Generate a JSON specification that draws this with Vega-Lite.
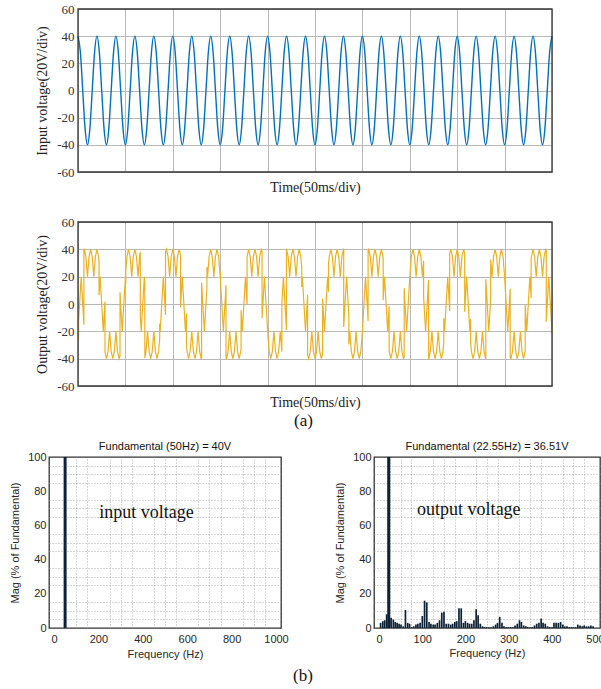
{
  "$schema": "https://vega.github.io/schema/vega-lite/v6.json",
  "background": "white",
  "padding": {"left": 8, "top": 3, "right": 0, "bottom": 0},
  "config": {
    "view": {"stroke": "#333333", "strokeWidth": 1.3},
    "axis": {"ticks": false, "domain": false, "grid": true, "gridWidth": 1, "labelFlush": false, "labelOverlap": false, "titleFontWeight": "normal", "minExtent": 0},
    "title": {"fontWeight": "normal"}
  },
  "datasets": {
    "input": [
      {"t":0,"v":40},{"t":2.5,"v":28.28},{"t":5,"v":0},{"t":7.5,"v":-28.28},{"t":10,"v":-40},{"t":12.5,"v":-28.28},{"t":15,"v":0},{"t":17.5,"v":28.28},
      {"t":20,"v":40},{"t":22.5,"v":28.28},{"t":25,"v":0},{"t":27.5,"v":-28.28},{"t":30,"v":-40},{"t":32.5,"v":-28.28},{"t":35,"v":0},{"t":37.5,"v":28.28},
      {"t":40,"v":40},{"t":42.5,"v":28.28},{"t":45,"v":0},{"t":47.5,"v":-28.28},{"t":50,"v":-40},{"t":52.5,"v":-28.28},{"t":55,"v":0},{"t":57.5,"v":28.28},
      {"t":60,"v":40},{"t":62.5,"v":28.28},{"t":65,"v":0},{"t":67.5,"v":-28.28},{"t":70,"v":-40},{"t":72.5,"v":-28.28},{"t":75,"v":0},{"t":77.5,"v":28.28},
      {"t":80,"v":40},{"t":82.5,"v":28.28},{"t":85,"v":0},{"t":87.5,"v":-28.28},{"t":90,"v":-40},{"t":92.5,"v":-28.28},{"t":95,"v":0},{"t":97.5,"v":28.28},
      {"t":100,"v":40},{"t":102.5,"v":28.28},{"t":105,"v":0},{"t":107.5,"v":-28.28},{"t":110,"v":-40},{"t":112.5,"v":-28.28},{"t":115,"v":0},{"t":117.5,"v":28.28},
      {"t":120,"v":40},{"t":122.5,"v":28.28},{"t":125,"v":0},{"t":127.5,"v":-28.28},{"t":130,"v":-40},{"t":132.5,"v":-28.28},{"t":135,"v":0},{"t":137.5,"v":28.28},
      {"t":140,"v":40},{"t":142.5,"v":28.28},{"t":145,"v":0},{"t":147.5,"v":-28.28},{"t":150,"v":-40},{"t":152.5,"v":-28.28},{"t":155,"v":0},{"t":157.5,"v":28.28},
      {"t":160,"v":40},{"t":162.5,"v":28.28},{"t":165,"v":0},{"t":167.5,"v":-28.28},{"t":170,"v":-40},{"t":172.5,"v":-28.28},{"t":175,"v":0},{"t":177.5,"v":28.28},
      {"t":180,"v":40},{"t":182.5,"v":28.28},{"t":185,"v":0},{"t":187.5,"v":-28.28},{"t":190,"v":-40},{"t":192.5,"v":-28.28},{"t":195,"v":0},{"t":197.5,"v":28.28},
      {"t":200,"v":40},{"t":202.5,"v":28.28},{"t":205,"v":0},{"t":207.5,"v":-28.28},{"t":210,"v":-40},{"t":212.5,"v":-28.28},{"t":215,"v":0},{"t":217.5,"v":28.28},
      {"t":220,"v":40},{"t":222.5,"v":28.28},{"t":225,"v":0},{"t":227.5,"v":-28.28},{"t":230,"v":-40},{"t":232.5,"v":-28.28},{"t":235,"v":0},{"t":237.5,"v":28.28},
      {"t":240,"v":40},{"t":242.5,"v":28.28},{"t":245,"v":0},{"t":247.5,"v":-28.28},{"t":250,"v":-40},{"t":252.5,"v":-28.28},{"t":255,"v":0},{"t":257.5,"v":28.28},
      {"t":260,"v":40},{"t":262.5,"v":28.28},{"t":265,"v":0},{"t":267.5,"v":-28.28},{"t":270,"v":-40},{"t":272.5,"v":-28.28},{"t":275,"v":0},{"t":277.5,"v":28.28},
      {"t":280,"v":40},{"t":282.5,"v":28.28},{"t":285,"v":0},{"t":287.5,"v":-28.28},{"t":290,"v":-40},{"t":292.5,"v":-28.28},{"t":295,"v":0},{"t":297.5,"v":28.28},
      {"t":300,"v":40},{"t":302.5,"v":28.28},{"t":305,"v":0},{"t":307.5,"v":-28.28},{"t":310,"v":-40},{"t":312.5,"v":-28.28},{"t":315,"v":0},{"t":317.5,"v":28.28},
      {"t":320,"v":40},{"t":322.5,"v":28.28},{"t":325,"v":0},{"t":327.5,"v":-28.28},{"t":330,"v":-40},{"t":332.5,"v":-28.28},{"t":335,"v":0},{"t":337.5,"v":28.28},
      {"t":340,"v":40},{"t":342.5,"v":28.28},{"t":345,"v":0},{"t":347.5,"v":-28.28},{"t":350,"v":-40},{"t":352.5,"v":-28.28},{"t":355,"v":0},{"t":357.5,"v":28.28},
      {"t":360,"v":40},{"t":362.5,"v":28.28},{"t":365,"v":0},{"t":367.5,"v":-28.28},{"t":370,"v":-40},{"t":372.5,"v":-28.28},{"t":375,"v":0},{"t":377.5,"v":28.28},
      {"t":380,"v":40},{"t":382.5,"v":28.28},{"t":385,"v":0},{"t":387.5,"v":-28.28},{"t":390,"v":-40},{"t":392.5,"v":-28.28},{"t":395,"v":0},{"t":397.5,"v":28.28},
      {"t":400,"v":40},{"t":402.5,"v":28.28},{"t":405,"v":0},{"t":407.5,"v":-28.28},{"t":410,"v":-40},{"t":412.5,"v":-28.28},{"t":415,"v":0},{"t":417.5,"v":28.28},
      {"t":420,"v":40},{"t":422.5,"v":28.28},{"t":425,"v":0},{"t":427.5,"v":-28.28},{"t":430,"v":-40},{"t":432.5,"v":-28.28},{"t":435,"v":0},{"t":437.5,"v":28.28},
      {"t":440,"v":40},{"t":442.5,"v":28.28},{"t":445,"v":0},{"t":447.5,"v":-28.28},{"t":450,"v":-40},{"t":452.5,"v":-28.28},{"t":455,"v":0},{"t":457.5,"v":28.28},
      {"t":460,"v":40},{"t":462.5,"v":28.28},{"t":465,"v":0},{"t":467.5,"v":-28.28},{"t":470,"v":-40},{"t":472.5,"v":-28.28},{"t":475,"v":0},{"t":477.5,"v":28.28},
      {"t":480,"v":40},{"t":482.5,"v":28.28},{"t":485,"v":0},{"t":487.5,"v":-28.28},{"t":490,"v":-40},{"t":492.5,"v":-28.28},{"t":495,"v":0},{"t":497.5,"v":28.28},
      {"t":500,"v":40}
    ],
    "output": [
      {"t":0,"v":-20},{"t":0.6,"v":-26.1},{"t":0.61,"v":-13.2},{"t":1.67,"v":0},{"t":3.33,"v":20},{"t":5,"v":0},{"t":6.23,"v":-15.1},{"t":6.24,"v":39.6},{"t":6.67,"v":40},
      {"t":8.33,"v":34.64},{"t":10,"v":20},{"t":11.67,"v":34.64},{"t":13.33,"v":40},{"t":15,"v":34.64},{"t":16.67,"v":20},{"t":18.33,"v":34.64},{"t":20,"v":40},{"t":21.67,"v":34.64},
      {"t":22.18,"v":31},{"t":22.19,"v":6.4},{"t":23.33,"v":20},{"t":25,"v":0},{"t":26.67,"v":-20},{"t":28.33,"v":0},{"t":28.48,"v":1.8},{"t":28.49,"v":-35.5},
      {"t":30,"v":-40},{"t":31.67,"v":-34.64},{"t":33.33,"v":-20},{"t":35,"v":-34.64},{"t":36.67,"v":-40},{"t":38.33,"v":-34.64},{"t":40,"v":-20},{"t":41.67,"v":-34.64},{"t":43.33,"v":-40},
      {"t":44.31,"v":-38.1},{"t":44.32,"v":8.6},{"t":45,"v":0},{"t":46.67,"v":-20},{"t":48.33,"v":0},{"t":50,"v":20},{"t":50.43,"v":15.2},{"t":50.44,"v":24.5},
      {"t":51.67,"v":34.64},{"t":53.33,"v":40},{"t":55,"v":34.64},{"t":56.67,"v":20},{"t":58.33,"v":34.64},{"t":60,"v":40},{"t":61.67,"v":34.64},{"t":63.33,"v":20},{"t":65,"v":34.64},
      {"t":65.72,"v":38.2},{"t":65.73,"v":-8.9},{"t":66.67,"v":-20},{"t":68.33,"v":0},{"t":70,"v":20},{"t":70.5,"v":14.3},{"t":70.51,"v":-39.5},
      {"t":71.67,"v":-34.64},{"t":73.33,"v":-20},{"t":75,"v":-34.64},{"t":76.67,"v":-40},{"t":78.33,"v":-34.64},{"t":80,"v":-20},{"t":81.67,"v":-34.64},{"t":83.33,"v":-40},{"t":85,"v":-34.64},
      {"t":86.17,"v":-25.2},{"t":86.18,"v":-14.3},{"t":86.67,"v":-20},{"t":88.33,"v":0},{"t":90,"v":20},{"t":91.67,"v":0},{"t":92.32,"v":-8.1},{"t":92.33,"v":38},
      {"t":93.33,"v":40},{"t":95,"v":34.64},{"t":96.67,"v":20},{"t":98.33,"v":34.64},{"t":100,"v":40},{"t":101.67,"v":34.64},{"t":103.33,"v":20},{"t":105,"v":34.64},{"t":106.67,"v":40},
      {"t":108.14,"v":35.8},{"t":108.15,"v":-2.4},{"t":108.33,"v":0},{"t":110,"v":20},{"t":111.67,"v":0},{"t":113.33,"v":-20},{"t":114.44,"v":-7},{"t":114.45,"v":-30.6},
      {"t":115,"v":-34.64},{"t":116.67,"v":-40},{"t":118.33,"v":-34.64},{"t":120,"v":-20},{"t":121.67,"v":-34.64},{"t":123.33,"v":-40},{"t":125,"v":-34.64},{"t":126.67,"v":-20},{"t":128.33,"v":-34.64},{"t":130,"v":-40},
      {"t":130.39,"v":-39.7},{"t":130.4,"v":15.6},{"t":131.67,"v":0},{"t":133.33,"v":-20},{"t":135,"v":0},{"t":135.98,"v":12.1},{"t":135.99,"v":27},
      {"t":136.67,"v":20},{"t":138.33,"v":34.64},{"t":140,"v":40},{"t":141.67,"v":34.64},{"t":143.33,"v":20},{"t":145,"v":34.64},{"t":146.67,"v":40},{"t":148.33,"v":34.64},{"t":150,"v":20},
      {"t":150.34,"v":23.6},{"t":150.35,"v":16.2},{"t":151.67,"v":0},{"t":153.33,"v":-20},{"t":155,"v":0},{"t":156.12,"v":13.7},{"t":156.13,"v":-39.4},
      {"t":156.67,"v":-40},{"t":158.33,"v":-34.64},{"t":160,"v":-20},{"t":161.67,"v":-34.64},{"t":163.33,"v":-40},{"t":165,"v":-34.64},{"t":166.67,"v":-20},{"t":168.33,"v":-34.64},{"t":170,"v":-40},{"t":171.67,"v":-34.64},
      {"t":172.03,"v":-32.2},{"t":172.04,"v":-4.5},{"t":173.33,"v":-20},{"t":175,"v":0},{"t":176.67,"v":20},{"t":178.33,"v":0},{"t":178.35,"v":34.7},
      {"t":180,"v":40},{"t":181.67,"v":34.64},{"t":183.33,"v":20},{"t":185,"v":34.64},{"t":186.67,"v":40},{"t":188.33,"v":34.64},{"t":190,"v":20},{"t":191.67,"v":34.64},{"t":193.33,"v":40},
      {"t":194.18,"v":38.6},{"t":194.19,"v":-10.2},{"t":195,"v":0},{"t":196.67,"v":20},{"t":198.33,"v":0},{"t":200,"v":-20},{"t":200.25,"v":-17.2},{"t":200.26,"v":-22.7},
      {"t":201.67,"v":-34.64},{"t":203.33,"v":-40},{"t":205,"v":-34.64},{"t":206.67,"v":-20},{"t":208.33,"v":-34.64},{"t":210,"v":-40},{"t":211.67,"v":-34.64},{"t":213.33,"v":-20},{"t":215,"v":-34.64},
      {"t":215.03,"v":-34.8},{"t":215.04,"v":0.4},{"t":216.67,"v":20},{"t":218.33,"v":0},{"t":219.9,"v":-19},{"t":219.91,"v":40},{"t":220,"v":40},
      {"t":221.67,"v":34.64},{"t":223.33,"v":20},{"t":225,"v":34.64},{"t":226.67,"v":40},{"t":228.33,"v":34.64},{"t":230,"v":20},{"t":231.67,"v":34.64},{"t":233.33,"v":40},{"t":235,"v":34.64},
      {"t":236.01,"v":26.7},{"t":236.02,"v":12.4},{"t":236.67,"v":20},{"t":238.33,"v":0},{"t":240,"v":-20},{"t":241.67,"v":0},{"t":242.2,"v":6.7},{"t":242.21,"v":-37.5},
      {"t":243.33,"v":-40},{"t":245,"v":-34.64},{"t":246.67,"v":-20},{"t":248.33,"v":-34.64},{"t":250,"v":-40},{"t":251.67,"v":-34.64},{"t":253.33,"v":-20},{"t":255,"v":-34.64},{"t":256.67,"v":-40},
      {"t":258.02,"v":-36.5},{"t":258.03,"v":4},{"t":258.33,"v":0},{"t":260,"v":-20},{"t":261.67,"v":0},{"t":263.33,"v":20},{"t":264.28,"v":8.9},{"t":264.29,"v":29.3},
      {"t":265,"v":34.64},{"t":266.67,"v":40},{"t":268.33,"v":34.64},{"t":270,"v":20},{"t":271.67,"v":34.64},{"t":273.33,"v":40},{"t":275,"v":34.64},{"t":276.67,"v":20},{"t":278.33,"v":34.64},{"t":280,"v":40},
      {"t":280.28,"v":39.8},{"t":280.29,"v":-16.8},{"t":281.67,"v":0},{"t":283.33,"v":20},{"t":285,"v":0},{"t":285.67,"v":-8.3},{"t":285.68,"v":-29.7},
      {"t":286.67,"v":-20},{"t":288.33,"v":-34.64},{"t":290,"v":-40},{"t":291.67,"v":-34.64},{"t":293.33,"v":-20},{"t":295,"v":-34.64},{"t":296.67,"v":-40},{"t":298.33,"v":-34.64},{"t":300,"v":-20},
      {"t":301.67,"v":0},{"t":303.33,"v":20},{"t":305,"v":0},{"t":306.01,"v":-12.5},{"t":306.02,"v":39.1},
      {"t":306.67,"v":40},{"t":308.33,"v":34.64},{"t":310,"v":20},{"t":311.67,"v":34.64},{"t":313.33,"v":40},{"t":315,"v":34.64},{"t":316.67,"v":20},{"t":318.33,"v":34.64},{"t":320,"v":40},{"t":321.67,"v":34.64},
      {"t":321.88,"v":33.2},{"t":321.89,"v":2.7},{"t":323.33,"v":20},{"t":325,"v":0},{"t":326.67,"v":-20},{"t":328.21,"v":-1.6},{"t":328.22,"v":-33.8},
      {"t":328.33,"v":-34.64},{"t":330,"v":-40},{"t":331.67,"v":-34.64},{"t":333.33,"v":-20},{"t":335,"v":-34.64},{"t":336.67,"v":-40},{"t":338.33,"v":-34.64},{"t":340,"v":-20},{"t":341.67,"v":-34.64},{"t":343.33,"v":-40},
      {"t":344.07,"v":-38.9},{"t":344.08,"v":11.6},{"t":345,"v":0},{"t":346.67,"v":-20},{"t":348.33,"v":0},{"t":350,"v":20},
      {"t":351.67,"v":34.64},{"t":353.33,"v":40},{"t":355,"v":34.64},{"t":356.67,"v":20},{"t":358.33,"v":34.64},{"t":360,"v":40},{"t":361.67,"v":34.64},{"t":363.33,"v":20},
      {"t":364.58,"v":31.7},{"t":364.59,"v":5.2},{"t":365,"v":0},{"t":366.67,"v":-20},{"t":368.33,"v":0},{"t":369.78,"v":17.6},{"t":369.79,"v":-39.9},
      {"t":370,"v":-40},{"t":371.67,"v":-34.64},{"t":373.33,"v":-20},{"t":375,"v":-34.64},{"t":376.67,"v":-40},{"t":378.33,"v":-34.64},{"t":380,"v":-20},{"t":381.67,"v":-34.64},{"t":383.33,"v":-40},{"t":385,"v":-34.64},
      {"t":385.83,"v":-28.3},{"t":385.84,"v":-10.4},{"t":386.67,"v":-20},{"t":388.33,"v":0},{"t":390,"v":20},{"t":391.67,"v":0},{"t":392.08,"v":-5.1},{"t":392.09,"v":36.9},
      {"t":393.33,"v":40},{"t":395,"v":34.64},{"t":396.67,"v":20},{"t":398.33,"v":34.64},{"t":400,"v":40},{"t":401.67,"v":34.64},{"t":403.33,"v":20},{"t":405,"v":34.64},{"t":406.67,"v":40},
      {"t":407.88,"v":37.1},{"t":407.89,"v":-5.6},{"t":408.33,"v":0},{"t":410,"v":20},{"t":411.67,"v":0},{"t":413.33,"v":-20},{"t":414.13,"v":-10.9},{"t":414.14,"v":-27.9},
      {"t":415,"v":-34.64},{"t":416.67,"v":-40},{"t":418.33,"v":-34.64},{"t":420,"v":-20},{"t":421.67,"v":-34.64},{"t":423.33,"v":-40},{"t":425,"v":-34.64},{"t":426.67,"v":-20},{"t":428.33,"v":-34.64},{"t":430,"v":-40},
      {"t":430.18,"v":-39.9},{"t":430.19,"v":18.1},{"t":431.67,"v":0},{"t":433.33,"v":-20},{"t":435,"v":0},{"t":435.3,"v":3.8},{"t":435.31,"v":32.6},
      {"t":436.67,"v":20},{"t":438.33,"v":34.64},{"t":440,"v":40},{"t":441.67,"v":34.64},{"t":443.33,"v":20},{"t":445,"v":34.64},{"t":446.67,"v":40},{"t":448.33,"v":34.64},
      {"t":449.9,"v":21.1},{"t":449.91,"v":18.9},{"t":450,"v":20},{"t":451.67,"v":0},{"t":453.33,"v":-20},{"t":455,"v":0},{"t":455.9,"v":11.2},{"t":455.91,"v":-38.8},
      {"t":456.67,"v":-40},{"t":458.33,"v":-34.64},{"t":460,"v":-20},{"t":461.67,"v":-34.64},{"t":463.33,"v":-40},{"t":465,"v":-34.64},{"t":466.67,"v":-20},{"t":468.33,"v":-34.64},{"t":470,"v":-40},{"t":471.67,"v":-34.64},
      {"t":471.73,"v":-34.2},{"t":471.74,"v":-0.8},{"t":473.33,"v":-20},{"t":475,"v":0},{"t":476.67,"v":20},{"t":477.98,"v":4.4},{"t":477.99,"v":32.2},
      {"t":478.33,"v":34.64},{"t":480,"v":40},{"t":481.67,"v":34.64},{"t":483.33,"v":20},{"t":485,"v":34.64},{"t":486.67,"v":40},{"t":488.33,"v":34.64},{"t":490,"v":20},{"t":491.67,"v":34.64},{"t":493.33,"v":40},
      {"t":493.96,"v":39.2},{"t":493.97,"v":-12.9},{"t":495,"v":0},{"t":496.67,"v":20},{"t":498.33,"v":0},{"t":499.83,"v":-18.2},{"t":499.84,"v":-21.8},{"t":500,"v":-20}
    ],
    "fftIn": [{"f": 50, "m": 100}],
    "fftOut": [
      {"f":3.7,"m":3},{"f":8.8,"m":4},{"f":13.3,"m":4.5},{"f":17.7,"m":8},{"f":22.55,"m":100},{"f":28,"m":6},{"f":33.2,"m":5},{"f":37.6,"m":3.5},{"f":42,"m":3},{"f":46.5,"m":2.5},
      {"f":50.9,"m":2},{"f":56,"m":1},{"f":61.2,"m":10.5},{"f":66.4,"m":3},{"f":70.8,"m":2.5},{"f":76,"m":0.5},{"f":80.4,"m":1},{"f":85.5,"m":2},{"f":90,"m":2.5},{"f":95.1,"m":3},
      {"f":100.3,"m":7},{"f":105.5,"m":16},{"f":110.6,"m":15},{"f":115.8,"m":3.5},{"f":120.2,"m":2.5},{"f":125.4,"m":2},{"f":129.8,"m":2},{"f":135,"m":3},{"f":140.1,"m":4.5},{"f":145.3,"m":9},
      {"f":150.4,"m":9.5},{"f":155.6,"m":2.5},{"f":160.8,"m":2.5},{"f":165.9,"m":2},{"f":170.4,"m":2.5},{"f":175.5,"m":3.5},{"f":179.9,"m":4},{"f":185.1,"m":11.5},{"f":190.3,"m":11.5},{"f":195.4,"m":3},
      {"f":199.9,"m":4},{"f":205,"m":3},{"f":209.4,"m":2.5},{"f":214.6,"m":2.5},{"f":219.8,"m":4.5},{"f":224.9,"m":11},{"f":229.4,"m":7.5},{"f":234.5,"m":2.5},{"f":239.7,"m":1},{"f":244.1,"m":0.5},
      {"f":249.3,"m":0.5},{"f":254.4,"m":0.5},{"f":259.6,"m":0.5},{"f":264.7,"m":1},{"f":269.9,"m":2},{"f":274.3,"m":3},{"f":279.5,"m":6.5},{"f":284.7,"m":3},{"f":289.1,"m":1},{"f":294.2,"m":0.5},
      {"f":299.4,"m":0.5},{"f":304.6,"m":0.5},{"f":309.7,"m":0.5},{"f":314.9,"m":1.5},{"f":320.1,"m":2.5},{"f":325.2,"m":4.5},{"f":329.6,"m":3.5},{"f":334.8,"m":1.5},{"f":340,"m":1},{"f":344.4,"m":0.5},
      {"f":349.6,"m":0.5},{"f":354.7,"m":0.5},{"f":359.9,"m":1.5},{"f":365,"m":2.5},{"f":370.2,"m":3},{"f":375.4,"m":5.5},{"f":379.8,"m":3},{"f":384.9,"m":2.5},{"f":390.1,"m":1},{"f":395.3,"m":0.5},
      {"f":400.4,"m":0.5},{"f":404.9,"m":3},{"f":410,"m":3},{"f":415.2,"m":3},{"f":420.4,"m":3.5},{"f":425.5,"m":2},{"f":429.9,"m":1},{"f":435.1,"m":1},{"f":440.3,"m":0.5},{"f":445.4,"m":0.5},
      {"f":449.9,"m":0.5},{"f":455,"m":0.5},{"f":460.2,"m":2},{"f":465.3,"m":1.5},{"f":470.5,"m":1},{"f":474.9,"m":1.5},{"f":480.1,"m":1},{"f":485.3,"m":1},{"f":490.4,"m":1.5},{"f":495.6,"m":1}
    ]
  },
  "spacing": 11,
  "vconcat": [
    {
      "spacing": 22,
      "vconcat": [
        {
          "width": 503, "height": 163,
          "view": {"stroke": null},
          "resolve": {"axis": {"x": "independent", "y": "independent"}},
          "layer": [
            {
              "data": {"name": "input"},
              "mark": {"type": "line", "color": "#0072BD", "strokeWidth": 1.4, "interpolate": "monotone"},
              "encoding": {
                "x": {"field": "t", "type": "quantitative", "scale": {"domain": [0, 500], "nice": false, "range": [29, 503]},
                  "axis": {"values": [0,50,100,150,200,250,300,350,400,450,500], "labels": false, "gridColor": "#b8b8b8", "title": "Time(50ms/div)", "titleFont": "Liberation Serif", "titleFontSize": 14, "titleColor": "#222222", "titlePadding": 8}},
                "y": {"field": "v", "type": "quantitative", "scale": {"domain": [-60, 60], "nice": false},
                  "axis": {"offset": -29, "values": [-60,-40,-20,0,20,40,60], "labelExpr": "'' + datum.value", "labelFont": "Liberation Serif", "labelFontSize": 13, "labelColor": "#333333", "labelPadding": 4, "gridColor": "#b8b8b8", "title": "Input voltage(20V/div)", "titleFont": "Liberation Serif", "titleFontSize": 14, "titleColor": "#222222", "titlePadding": 7}}
              }
            },
            {
              "data": {"values": [{}]},
              "mark": {"type": "rect", "filled": false, "color": "#333333", "strokeWidth": 1.3},
              "encoding": {
                "x": {"datum": 0, "type": "quantitative", "axis": null},
                "x2": {"datum": 500},
                "y": {"datum": -60, "type": "quantitative", "axis": null},
                "y2": {"datum": 60}
              }
            }
          ]
        },
        {
          "width": 503, "height": 164,
          "view": {"stroke": null},
          "title": {"text": "(a)", "orient": "bottom", "font": "Liberation Serif", "fontSize": 17, "color": "#111111", "offset": 4, "dx": 3},
          "resolve": {"axis": {"x": "independent", "y": "independent"}},
          "layer": [
            {
              "data": {"name": "output"},
              "mark": {"type": "line", "color": "#EDB120", "strokeWidth": 1.2},
              "encoding": {
                "x": {"field": "t", "type": "quantitative", "scale": {"domain": [0, 500], "nice": false, "range": [29, 503]},
                  "axis": {"values": [0,50,100,150,200,250,300,350,400,450,500], "labels": false, "gridColor": "#b8b8b8", "title": "Time(50ms/div)", "titleFont": "Liberation Serif", "titleFontSize": 14, "titleColor": "#222222", "titlePadding": 9}},
                "y": {"field": "v", "type": "quantitative", "scale": {"domain": [-60, 60], "nice": false},
                  "axis": {"offset": -29, "values": [-60,-40,-20,0,20,40,60], "labelExpr": "'' + datum.value", "labelFont": "Liberation Serif", "labelFontSize": 13, "labelColor": "#333333", "labelPadding": 4, "gridColor": "#b8b8b8", "title": "Output voltage(20V/div)", "titleFont": "Liberation Serif", "titleFontSize": 14, "titleColor": "#222222", "titlePadding": 7}}
              }
            },
            {
              "data": {"values": [{}]},
              "mark": {"type": "rect", "filled": false, "color": "#333333", "strokeWidth": 1.3},
              "encoding": {
                "x": {"datum": 0, "type": "quantitative", "axis": null},
                "x2": {"datum": 500},
                "y": {"datum": -60, "type": "quantitative", "axis": null},
                "y2": {"datum": 60}
              }
            }
          ]
        }
      ]
    },
    {
      "title": {"text": "(b)", "orient": "bottom", "font": "Liberation Serif", "fontSize": 17, "color": "#111111", "offset": 8, "anchor": "middle", "dx": -4},
      "spacing": 44,
      "hconcat": [
        {
          "width": 232, "height": 171,
          "title": {"text": "Fundamental (50Hz) = 40V", "font": "Liberation Sans", "fontSize": 11, "color": "#111111", "offset": -1},
          "resolve": {"axis": {"x": "independent", "y": "independent"}},
          "layer": [
            {
              "data": {"values": [{}]},
              "mark": {"type": "text", "text": "input voltage", "font": "Liberation Serif", "fontSize": 18, "color": "#111111", "align": "center", "baseline": "middle"},
              "encoding": {
                "x": {"datum": 417, "type": "quantitative", "scale": {"domain": [0, 1000], "nice": false},
                  "axis": {"orient": "top", "values": [50,100,150,250,300,350,450,500,550,650,700,750,850,900,950], "labels": false, "title": null, "minExtent": 0, "maxExtent": 0, "offset": 0, "gridColor": "#9a9a9a", "gridDash": [1, 2], "gridWidth": 0.8}},
                "y": {"datum": 67, "type": "quantitative", "scale": {"domain": [0, 100], "nice": false},
                  "axis": {"orient": "right", "values": [5,10,15,25,30,35,45,50,55,65,70,75,85,90,95], "labels": false, "title": null, "minExtent": 0, "maxExtent": 0, "offset": 0, "gridColor": "#9a9a9a", "gridDash": [1, 2], "gridWidth": 0.8}}
              }
            },
            {
              "data": {"name": "fftIn"},
              "mark": {"type": "bar", "color": "#0e2236", "width": 3},
              "encoding": {
                "x": {"field": "f", "type": "quantitative", "scale": {"domain": [0, 1000], "nice": false},
                  "axis": {"orient": "bottom", "values": [0,200,400,600,800,1000], "labelExpr": "'' + datum.value", "labelFont": "Liberation Sans", "labelFontSize": 11, "labelColor": "#262626", "labelPadding": 5, "gridColor": "#bcbcbc",
                    "title": "Frequency (Hz)", "titleFont": "Liberation Sans", "titleFontSize": 11, "titleColor": "#262626", "titlePadding": 4}},
                "y": {"field": "m", "type": "quantitative", "scale": {"domain": [0, 100], "nice": false},
                  "axis": {"orient": "left", "values": [0,20,40,60,80,100], "labelExpr": "'' + datum.value", "labelFont": "Liberation Sans", "labelFontSize": 11, "labelColor": "#262626", "labelPadding": 3, "gridColor": "#bcbcbc",
                    "title": "Mag (% of Fundamental)", "titleFont": "Liberation Sans", "titleFontSize": 11, "titleColor": "#262626", "titlePadding": 7}}
              }
            }
          ]
        },
        {
          "width": 226, "height": 171,
          "title": {"text": "Fundamental (22.55Hz) = 36.51V", "font": "Liberation Sans", "fontSize": 11, "color": "#111111", "offset": -1},
          "resolve": {"axis": {"x": "independent", "y": "independent"}},
          "layer": [
            {
              "data": {"values": [{}]},
              "mark": {"type": "text", "text": "output voltage", "font": "Liberation Serif", "fontSize": 18, "color": "#111111", "align": "center", "baseline": "middle"},
              "encoding": {
                "x": {"datum": 208, "type": "quantitative", "scale": {"domain": [0, 500], "nice": false},
                  "axis": {"orient": "top", "values": [25,50,75,125,150,175,225,250,275,325,350,375,425,450,475], "labels": false, "title": null, "minExtent": 0, "maxExtent": 0, "offset": 0, "gridColor": "#9a9a9a", "gridDash": [1, 2], "gridWidth": 0.8}},
                "y": {"datum": 69, "type": "quantitative", "scale": {"domain": [0, 100], "nice": false},
                  "axis": {"orient": "right", "values": [5,10,15,25,30,35,45,50,55,65,70,75,85,90,95], "labels": false, "title": null, "minExtent": 0, "maxExtent": 0, "offset": 0, "gridColor": "#9a9a9a", "gridDash": [1, 2], "gridWidth": 0.8}}
              }
            },
            {
              "data": {"name": "fftOut"},
              "mark": {"type": "bar", "color": "#0e2236", "width": 1.7},
              "encoding": {
                "x": {"field": "f", "type": "quantitative", "scale": {"domain": [0, 500], "nice": false},
                  "axis": {"orient": "bottom", "values": [0,100,200,300,400,500], "labelExpr": "'' + datum.value", "labelFont": "Liberation Sans", "labelFontSize": 11, "labelColor": "#262626", "labelPadding": 5, "gridColor": "#bcbcbc",
                    "title": "Frequency (Hz)", "titleFont": "Liberation Sans", "titleFontSize": 11, "titleColor": "#262626", "titlePadding": 3}},
                "y": {"field": "m", "type": "quantitative", "scale": {"domain": [0, 100], "nice": false},
                  "axis": {"orient": "left", "values": [0,20,40,60,80,100], "labelExpr": "'' + datum.value", "labelFont": "Liberation Sans", "labelFontSize": 11, "labelColor": "#262626", "labelPadding": 3, "gridColor": "#bcbcbc",
                    "title": "Mag (% of Fundamental)", "titleFont": "Liberation Sans", "titleFontSize": 11, "titleColor": "#262626", "titlePadding": 7}}
              }
            },
            {
              "data": {"name": "fftOut"},
              "transform": [{"filter": "datum.m > 50"}],
              "mark": {"type": "bar", "color": "#0e2236", "width": 3},
              "encoding": {
                "x": {"field": "f", "type": "quantitative", "axis": null},
                "y": {"field": "m", "type": "quantitative", "axis": null}
              }
            }
          ]
        }
      ]
    }
  ]
}
